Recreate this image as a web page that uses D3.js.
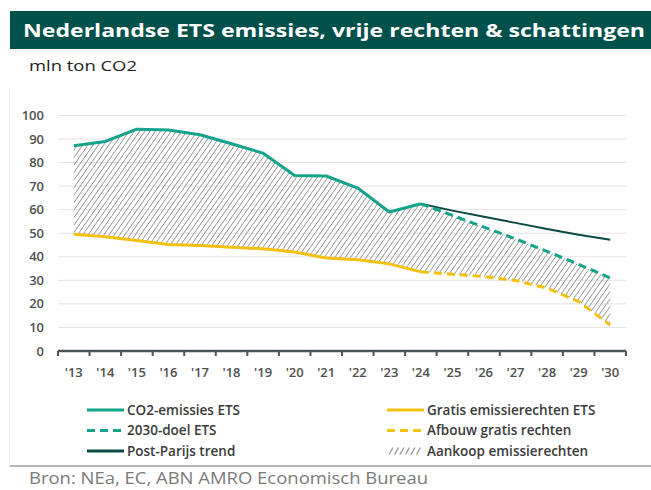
<!DOCTYPE html>
<html><head><meta charset="utf-8">
<script src="https://cdn.jsdelivr.net/npm/d3@7"></script>
<style>body{margin:0;background:#fff;}svg{display:block;}</style>
</head><body>
<svg id="c" width="651" height="490"></svg>
<script>
const years = ["'13","'14","'15","'16","'17","'18","'19","'20","'21","'22","'23","'24","'25","'26","'27","'28","'29","'30"];
const emissions = [87.2, 89, 94.2, 93.8, 91.8, 88, 84, 74.5, 74.3, 69.2, 59, 62.5];          // '13-'24
const goal2030 = [62.5, 57.6, 52.6, 47.6, 42.3, 36.8, 31];                                    // '24-'30
const postParis = [62.5, 59.6, 57, 54.4, 51.8, 49.4, 47.2];                                   // '24-'30
const freeAllow = [49.6, 48.5, 46.9, 45.2, 44.8, 44.1, 43.4, 42, 39.5, 38.7, 37, 33.6];     // '13-'24
const freePhase = [33.6, 32.6, 31.6, 29.9, 26.7, 21, 11];                                     // '24-'30
const yTicks = [0,10,20,30,40,50,60,70,80,90,100];
const legendItems = [
  {label:"CO2-emissies ETS", kind:"solid", color:"#14a38b"},
  {label:"2030-doel ETS", kind:"dash", color:"#14a38b"},
  {label:"Post-Parijs trend", kind:"solid", color:"#0a4a45"},
  {label:"Gratis emissierechten ETS", kind:"solid", color:"#f2c111"},
  {label:"Afbouw gratis rechten", kind:"dash", color:"#f2c111"},
  {label:"Aankoop emissierechten", kind:"hatch", color:"#999"}
];

const svg = d3.select("#c");
const font = "'Open Sans', sans-serif";
const green = "#14a38b", yellow = "#f2c111", dark = "#0a4a45";

// title bar
svg.append("rect").attr("x",10).attr("y",11).attr("width",641).attr("height",38).attr("fill","#00504c");
svg.append("text").attr("x",23).attr("y",37).attr("fill","#fff").attr("font-family",font)
  .attr("font-weight",700).attr("font-size",18.5).attr("textLength",622).attr("lengthAdjust","spacingAndGlyphs")
  .text("Nederlandse ETS emissies, vrije rechten & schattingen");
svg.append("text").attr("x",29).attr("y",71).attr("fill","#222").attr("font-family",font)
  .attr("font-size",15).attr("textLength",108).attr("lengthAdjust","spacingAndGlyphs").text("mln ton CO2");

// faint panel border
svg.append("line").attr("x1",9.5).attr("x2",9.5).attr("y1",88).attr("y2",466).attr("stroke","#eee");

const x = d3.scaleBand().domain(years).range([58,626]);
const cx = d => x(d) + x.bandwidth()/2;
const y = d3.scaleLinear().domain([0,100]).range([351,115.5]);

// gridlines
svg.append("g").selectAll("line").data(yTicks.filter(v=>v>0)).join("line")
  .attr("x1",58).attr("x2",626).attr("y1",d=>y(d)).attr("y2",d=>y(d))
  .attr("stroke","#e3e3e3").attr("stroke-width",1);

// y labels
svg.append("g").selectAll("text").data(yTicks).join("text")
  .attr("x",44).attr("y",d=>y(d)).attr("dy","0.35em").attr("text-anchor","end")
  .attr("font-family",font).attr("font-weight",600).attr("font-size",13).attr("fill","#505050").text(d=>d);

// hatch pattern
const defs = svg.append("defs");
const pat = defs.append("pattern").attr("id","hatch").attr("patternUnits","userSpaceOnUse")
  .attr("width",4.3).attr("height",4.3).attr("patternTransform","rotate(35)");
pat.append("line").attr("x1",0).attr("y1",-1).attr("x2",0).attr("y2",5.3).attr("stroke","#8a8a8a").attr("stroke-width",1.5);

const upper = emissions.concat(goal2030.slice(1));
const lower = freeAllow.concat(freePhase.slice(1));
const areaData = years.map((yr,i)=>({yr, hi:upper[i], lo:lower[i]}));
svg.append("path").datum(areaData)
  .attr("d", d3.area().x(d=>cx(d.yr)).y0(d=>y(d.lo)).y1(d=>y(d.hi)))
  .attr("fill","url(#hatch)");

const line = d3.line().x(d=>cx(d[0])).y(d=>y(d[1]));
const pairs = (arr, start) => arr.map((v,i)=>[years[start+i], v]);

svg.append("path").datum(pairs(postParis,11)).attr("d",line).attr("fill","none").attr("stroke",dark).attr("stroke-width",2);
svg.append("path").datum(pairs(goal2030,11)).attr("d",line).attr("fill","none").attr("stroke",green).attr("stroke-width",3).attr("stroke-dasharray","8,5");
svg.append("path").datum(pairs(freePhase,11)).attr("d",line).attr("fill","none").attr("stroke",yellow).attr("stroke-width",3).attr("stroke-dasharray","8,5");
svg.append("path").datum(pairs(freeAllow,0)).attr("d",line).attr("fill","none").attr("stroke",yellow).attr("stroke-width",3).attr("stroke-linejoin","round");
svg.append("path").datum(pairs(emissions,0)).attr("d",line).attr("fill","none").attr("stroke",green).attr("stroke-width",3).attr("stroke-linejoin","round");

// x axis
const xAxis = svg.append("g").attr("transform","translate(0,351)");
xAxis.append("line").attr("x1",58).attr("x2",626).attr("stroke","#4b555a").attr("stroke-width",2.5);
const tickPos = years.map(d=>x(d)).concat([x(years[years.length-1])+x.bandwidth()]);
xAxis.selectAll("line.t").data(tickPos).join("line").attr("class","t")
  .attr("x1",d=>d).attr("x2",d=>d).attr("y1",0).attr("y2",5).attr("stroke","#4b555a").attr("stroke-width",2);
xAxis.selectAll("text").data(years).join("text")
  .attr("x",d=>cx(d)).attr("y",21).attr("dy","0.35em").attr("text-anchor","middle")
  .attr("font-family",font).attr("font-weight",600).attr("font-size",13).attr("fill","#505050").text(d=>d);

// legend
const lg = svg.append("g");
legendItems.forEach((it,i)=>{
  const col = Math.floor(i/3), row = i%3;
  const lx = col===0 ? 87 : 387, ly = 410 + row*20.5;
  const g = lg.append("g");
  if (it.kind==="hatch") {
    for (let k=0;k<6;k++) g.append("line").attr("x1",lx+2+k*5.5).attr("y1",ly+3.5).attr("x2",lx+6+k*5.5).attr("y2",ly-3.5)
      .attr("stroke","#999").attr("stroke-width",1.4);
  } else {
    g.append("line").attr("x1",lx).attr("x2",lx+37).attr("y1",ly).attr("y2",ly)
      .attr("stroke",it.color).attr("stroke-width",3).attr("stroke-dasharray",it.kind==="dash"?"8,5":null);
  }
  g.append("text").attr("x",lx+40).attr("y",ly).attr("dy","0.35em").attr("font-family",font)
    .attr("font-weight",600).attr("font-size",13.5).attr("fill","#3a3a3a").text(it.label);
});

// footer
svg.append("line").attr("x1",10).attr("x2",651).attr("y1",466).attr("y2",466).attr("stroke","#b5b5b5").attr("stroke-width",2);
svg.append("text").attr("x",29).attr("y",484).attr("font-family",font).attr("font-size",16.5).attr("fill","#7a7a7a")
  .attr("textLength",399).attr("lengthAdjust","spacingAndGlyphs")
  .text("Bron: NEa, EC, ABN AMRO Economisch Bureau");
</script>
</body></html>
